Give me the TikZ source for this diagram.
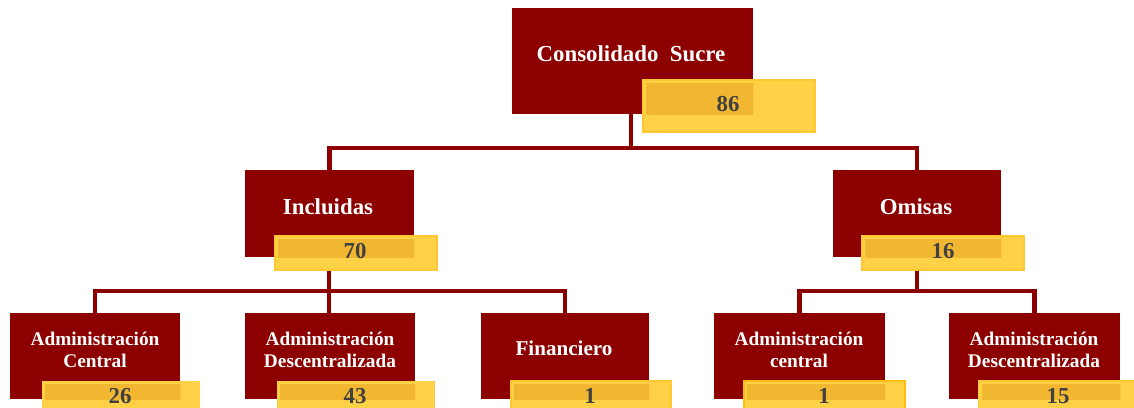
\documentclass[tikz,border=0pt]{standalone}
\usepackage{fontspec}
\setmainfont{Liberation Serif}
\usetikzlibrary{backgrounds}
\definecolor{dred}{HTML}{8C0000}
\definecolor{yfill}{HTML}{FFD147}
\definecolor{yedge}{HTML}{FFC832}
\definecolor{yedgestrong}{HTML}{FFBE0F}
\definecolor{yband}{HTML}{F2B731}
\definecolor{numgray}{HTML}{404040}
\newcommand{\bandover}[2]{%
  \begin{scope}
    \clip (#1.north west) rectangle (#1.south east);
    \fill[yband] ([xshift=2.3pt,yshift=-2.3pt]#2.north west) rectangle ([xshift=-2.3pt,yshift=2.3pt]#2.south east);
  \end{scope}}
\begin{document}
\begin{tikzpicture}[x=0.02cm,y=-0.02cm,
  redbox/.style={fill=dred, draw=none, inner sep=0pt},
  ybox/.style={fill=yfill, draw=yedge, line width=1.1pt, inner sep=0pt},
  conn/.style={draw=dred, line width=2.3pt},
  bigtxt/.style={text=white, font=\bfseries\fontsize{13}{15}\selectfont, inner sep=0pt, anchor=base},
  smalltxt/.style={text=white, font=\bfseries\fontsize{11}{12.6}\selectfont, inner sep=0pt, align=center},
  numtxt/.style={text=numgray, font=\bfseries\fontsize{13}{15}\selectfont, inner sep=0pt, anchor=base}]
\useasboundingbox (0,0) rectangle (1134,408);
\clip (0,0) rectangle (1134,408);

% level 1
\node[redbox, minimum width=4.82cm, minimum height=2.12cm] (top) at (632.5,61) {};
\node[ybox, minimum width=3.44cm, minimum height=1.04cm] (ytop) at (729,106) {};
\bandover{top}{ytop}
\node[bigtxt] (ttop) at (631,62) {Consolidado\ \ Sucre};
\node[numtxt] (ntop) at (728,112) {86};

% level 2
\node[redbox, minimum width=3.38cm, minimum height=1.74cm] (incl) at (329.5,213.5) {};
\node[ybox, minimum width=3.24cm, minimum height=0.68cm] (yincl) at (356,253) {};
\bandover{incl}{yincl}
\node[bigtxt] (tincl) at (328,215) {Incluidas};
\node[numtxt] (nincl) at (355,259) {70};

\node[redbox, minimum width=3.36cm, minimum height=1.74cm] (omis) at (917,213.5) {};
\node[ybox, minimum width=3.24cm, minimum height=0.68cm] (yomis) at (943,253) {};
\bandover{omis}{yomis}
\node[bigtxt] (tomis) at (916,215) {Omisas};
\node[numtxt] (nomis) at (943,259) {16};

% level 3
\node[redbox, minimum width=3.40cm, minimum height=1.72cm] (ac) at (95,356) {};
\node[ybox, draw=none, minimum width=3.16cm, minimum height=0.62cm] (yac) at (121,396.5) {};
\bandover{ac}{yac}
\node[smalltxt] (tac) at (95,350) {Administración\\Central};
\node[numtxt] (nac) at (120,404) {26};

\node[redbox, minimum width=3.40cm, minimum height=1.72cm] (ad) at (330,356) {};
\node[ybox, draw=none, minimum width=3.16cm, minimum height=0.62cm] (yad) at (356,396.5) {};
\bandover{ad}{yad}
\node[smalltxt] (tad) at (330,350) {Administración\\Descentralizada};
\node[numtxt] (nad) at (355,404) {43};

\node[redbox, minimum width=3.36cm, minimum height=1.72cm] (fin) at (565,356) {};
\node[ybox, minimum width=3.20cm, minimum height=0.62cm] (yfin) at (591,396.5) {};
\bandover{fin}{yfin}
\node[text=white, font=\bfseries\fontsize{12}{14}\selectfont, inner sep=0pt, anchor=base] (tfin) at (564,356) {Financiero};
\node[numtxt] (nfin) at (590,404) {1};

\node[redbox, minimum width=3.42cm, minimum height=1.72cm] (oc) at (799.5,356) {};
\node[ybox, draw=yedgestrong, line width=1.6pt, minimum width=3.22cm, minimum height=0.62cm] (yoc) at (824.5,396.5) {};
\bandover{oc}{yoc}
\node[smalltxt] (toc) at (799,350) {Administración\\central};
\node[numtxt] (noc) at (824,404) {1};

\node[redbox, minimum width=3.42cm, minimum height=1.72cm] (od) at (1034.5,356) {};
\node[ybox, minimum width=3.18cm, minimum height=0.62cm] (yod) at (1058,396.5) {};
\bandover{od}{yod}
\node[smalltxt] (tod) at (1034,350) {Administración\\Descentralizada};
\node[numtxt] (nod) at (1058,404) {15};

% connectors
\coordinate (j1) at (631,148);
\coordinate (j2) at (329,291);
\coordinate (j3) at (917,291);
\begin{scope}[on background layer]
\draw[conn] (j1 |- top.south) -- (j1);
\draw[conn] (j1) -| (incl.north);
\draw[conn] (j1) -| (omis.north);
\draw[conn] (j2 |- incl.south) -- (j2);
\draw[conn] (j2) -| (ac.north);
\draw[conn] (j2) -- (j2 |- ad.north);
\draw[conn] (j2) -| (fin.north);
\draw[conn] (j3 |- omis.south) -- (j3);
\draw[conn] (j3) -| (oc.north);
\draw[conn] (j3) -| (od.north);
\end{scope}
\end{tikzpicture}
\end{document}
